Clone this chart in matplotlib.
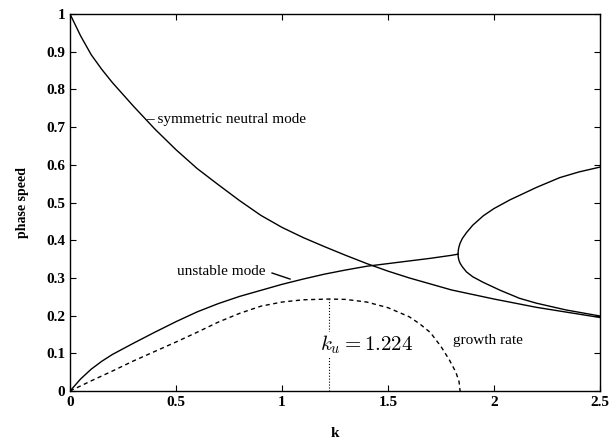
import numpy as np
import matplotlib.pyplot as plt
from matplotlib.ticker import FormatStrFormatter

plt.rcParams['font.family'] = ['Liberation Serif', 'DejaVu Serif']
plt.rcParams['mathtext.fontset'] = 'cm'

# symmetric neutral mode (phase speed vs k)
k_sym = [0, 0.05, 0.1, 0.15, 0.2, 0.3, 0.4, 0.5, 0.6, 0.7, 0.8, 0.9, 1.0, 1.1, 1.2, 1.3,
         1.4, 1.5, 1.6, 1.8, 2.0, 2.2, 2.4, 2.5]
c_sym = [1.0, 0.942, 0.892, 0.853, 0.818, 0.755, 0.695, 0.64, 0.59, 0.547, 0.505, 0.466,
         0.434, 0.407, 0.383, 0.36, 0.338, 0.318, 0.3, 0.268, 0.244, 0.222, 0.204, 0.195]

# unstable mode, real part up to the branch point
k_uns = [0, 0.05, 0.1, 0.15, 0.2, 0.25, 0.3, 0.4, 0.5, 0.6, 0.7, 0.8, 0.9, 1.0, 1.1, 1.2,
         1.3, 1.4, 1.5, 1.6, 1.7, 1.8, 1.83]
c_uns = [0, 0.032, 0.058, 0.079, 0.097, 0.112, 0.127, 0.156, 0.184, 0.21, 0.232, 0.251,
         0.267, 0.283, 0.297, 0.31, 0.321, 0.331, 0.338, 0.345, 0.352, 0.36, 0.363]

# two neutral branches beyond the cutoff
k_up = [1.83, 1.832, 1.835, 1.84, 1.85, 1.87, 1.9, 1.95, 2.0, 2.075, 2.2, 2.31, 2.4, 2.5]
c_up = [0.363, 0.375, 0.383, 0.392, 0.404, 0.42, 0.44, 0.465, 0.484, 0.507, 0.54, 0.566,
        0.581, 0.594]
k_lo = [1.83, 1.832, 1.835, 1.84, 1.85, 1.87, 1.9, 1.95, 2.03, 2.12, 2.2, 2.34, 2.5]
c_lo = [0.363, 0.353, 0.346, 0.339, 0.33, 0.316, 0.303, 0.288, 0.267, 0.246, 0.233,
        0.215, 0.199]

# growth rate of the unstable mode
k_gr = [0, 0.1, 0.2, 0.3, 0.4, 0.5, 0.6, 0.7, 0.8, 0.9, 1.0, 1.1, 1.224, 1.3, 1.4,
        1.5, 1.6, 1.65, 1.7, 1.75, 1.79, 1.82, 1.835, 1.84]
c_gr = [0, 0.027, 0.053, 0.08, 0.105, 0.13, 0.156, 0.183, 0.206, 0.225, 0.236, 0.242,
        0.244, 0.243, 0.236, 0.221, 0.197, 0.178, 0.155, 0.118, 0.082, 0.05, 0.025, 0]

k_u = 1.224
gr_max = 0.244

fig = plt.figure(figsize=(6.11, 4.45), dpi=100)
ax = fig.add_axes([0.1146, 0.1213, 0.8674, 0.8472])

ax.plot(k_sym, c_sym, 'k-', lw=1.0)
ax.plot(k_uns, c_uns, 'k-', lw=1.0)
ax.plot(k_up, c_up, 'k-', lw=1.0)
ax.plot(k_lo, c_lo, 'k-', lw=1.0)
ax.plot(k_gr, c_gr, 'k--', lw=1.0, dashes=(3, 2.5))
ax.plot([k_u, k_u], [0, gr_max], 'k:', lw=0.8)

ax.text(1.40, 0.122, r'$k_u = 1.224$', fontsize=15, ha='center', va='center',
        bbox=dict(facecolor='white', edgecolor='none', pad=1))
ax.text(0.358, 0.72, '\u2013 symmetric neutral mode', fontsize=11, ha='left', va='center')
ax.text(0.505, 0.316, 'unstable mode', fontsize=11, ha='left', va='center')
ax.plot([0.953, 1.038], [0.313, 0.297], 'k-', lw=1.0)
ax.text(1.807, 0.133, 'growth rate', fontsize=11, ha='left', va='center')

ax.set_xlim(0, 2.5)
ax.set_ylim(0, 1)
ax.set_xticks(np.arange(0, 2.51, 0.5))
ax.set_yticks(np.arange(0, 1.01, 0.1))
ax.xaxis.set_major_formatter(FormatStrFormatter('%g'))
ax.yaxis.set_major_formatter(FormatStrFormatter('%g'))
ax.tick_params(direction='in', length=4, width=0.8, top=True, right=True, labelsize=11)
for lab in ax.get_xticklabels() + ax.get_yticklabels():
    lab.set_fontweight('bold')
for sp in ax.spines.values():
    sp.set_linewidth(1.0)

ax.set_xlabel('k', fontsize=11, fontweight='bold', labelpad=13)
ax.set_ylabel('phase speed', fontsize=10, fontweight='bold', labelpad=12)

fig.savefig('out.png', dpi=100)
